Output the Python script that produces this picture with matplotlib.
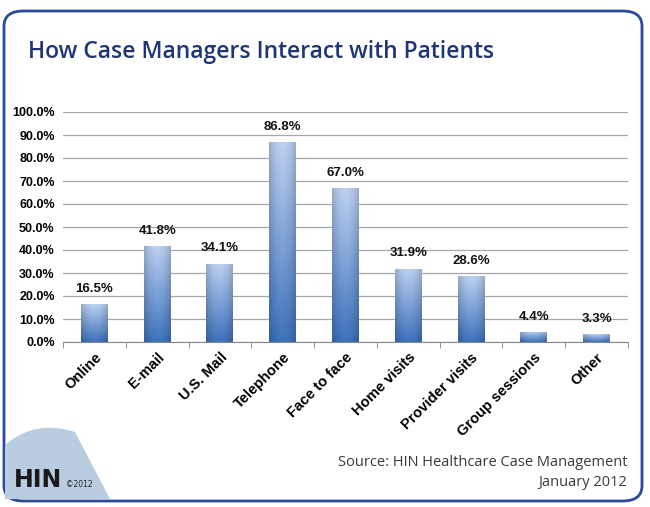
import numpy as np
import matplotlib
matplotlib.use("Agg")
import matplotlib.pyplot as plt
from matplotlib.patches import FancyBboxPatch, Rectangle, PathPatch
from matplotlib.path import Path as MPath

categories = ["Online", "E-mail", "U.S. Mail", "Telephone", "Face to face",
              "Home visits", "Provider visits", "Group sessions", "Other"]
values = [16.5, 41.8, 34.1, 86.8, 67.0, 31.9, 28.6, 4.4, 3.3]
yticks = [0, 10, 20, 30, 40, 50, 60, 70, 80, 90, 100]

title = "How Case Managers Interact with Patients"
source_lines = ["Source: HIN Healthcare Case Management", "January 2012"]

W, H = 650, 507
fig = plt.figure(figsize=(W / 100, H / 100), dpi=100)
fig.patch.set_facecolor("white")

# rounded frame
frame = FancyBboxPatch((4 / W, 6 / H), 638 / W, 490 / H,
                       boxstyle="round,pad=0,rounding_size=0.03",
                       transform=fig.transFigure, fc="white", ec="#2b4a9a",
                       lw=2.0, zorder=-3)
fig.patches.append(frame)

# logo hill in lower-left corner
hill = MPath([(5 / W, 8 / H), (5 / W, 62 / H), (35 / W, 88 / H),
              (75 / W, 75 / H), (110 / W, 8 / H), (5 / W, 8 / H)],
             [MPath.MOVETO, MPath.LINETO, MPath.CURVE3, MPath.CURVE3,
              MPath.LINETO, MPath.CLOSEPOLY])
fig.patches.append(PathPatch(hill, transform=fig.transFigure,
                             fc="#b9cde0", ec="none", zorder=-2))
fig.text(14 / W, 20 / H, "HIN", fontsize=17, fontweight="bold",
         color="#1a1a1a", family="DejaVu Sans", va="baseline")
fig.text(66 / W, 20 / H, "©2012", fontsize=5.5, color="#222222",
         va="baseline")

fig.text(28 / W, 1 - 58 / H, title, fontsize=16.5, color="#1f3576",
         family="Open Sans", fontweight="semibold", va="baseline")

for i, line in enumerate(source_lines):
    fig.text(627 / W, 1 - (466 + 20 * i) / H, line, fontsize=10.5,
             color="#3a3a3a", family="Open Sans", ha="right", va="baseline")

ax = fig.add_axes([63 / W, 1 - 342 / H, 565 / W, 230 / H])
ax.set_facecolor("none")

# gradient image for bars
ny, nx = 64, 32
yy = np.linspace(0, 1, ny)[:, None]
xx = np.linspace(-1, 1, nx)[None, :]
top = np.array([0.74, 0.82, 0.95])
bot = np.array([0.24, 0.45, 0.74])
base = bot[None, None, :] * (1 - yy[..., None]) + top[None, None, :] * yy[..., None]
shade = 1 - 0.18 * (xx ** 2)[..., None]
grad = np.clip(base * shade, 0, 1)

bw = 0.43
for i, v in enumerate(values):
    rect = Rectangle((i - bw / 2, 0), bw, v, fc="none", ec="none")
    ax.add_patch(rect)
    im = ax.imshow(grad, extent=(i - bw / 2, i + bw / 2, 0, v),
                   origin="lower", aspect="auto", zorder=2)
    im.set_clip_path(rect)
    ax.text(i, v + 4, f"{v:.1f}%", ha="center", va="bottom", fontsize=9.5,
            fontweight="bold", family="Liberation Sans", color="#111111")

ax.set_aspect("auto")
ax.set_xlim(-0.5, len(categories) - 0.5)
ax.set_ylim(0, 100)
ax.set_yticks(yticks)
ax.set_yticklabels([f"{t:.1f}%" for t in yticks], fontsize=9,
                   fontweight="bold", family="Liberation Sans")
ax.yaxis.grid(True, color="#a8a8a8", lw=0.9)
ax.set_axisbelow(True)
ax.tick_params(axis="y", length=0, pad=6)

ax.set_xticks(range(len(categories)))
ax.set_xticklabels(categories, rotation=45, ha="right", rotation_mode="anchor",
                   fontsize=10.5, fontweight="bold", family="Liberation Sans")
ax.tick_params(axis="x", length=0, pad=6)
ax.set_xticks(np.arange(-0.5, len(categories)), minor=True)
ax.tick_params(axis="x", which="minor", length=4, color="#888888")

for s in ["top", "right", "left"]:
    ax.spines[s].set_visible(False)
ax.spines["bottom"].set_color("#888888")

fig.savefig("out.png", dpi=100)
